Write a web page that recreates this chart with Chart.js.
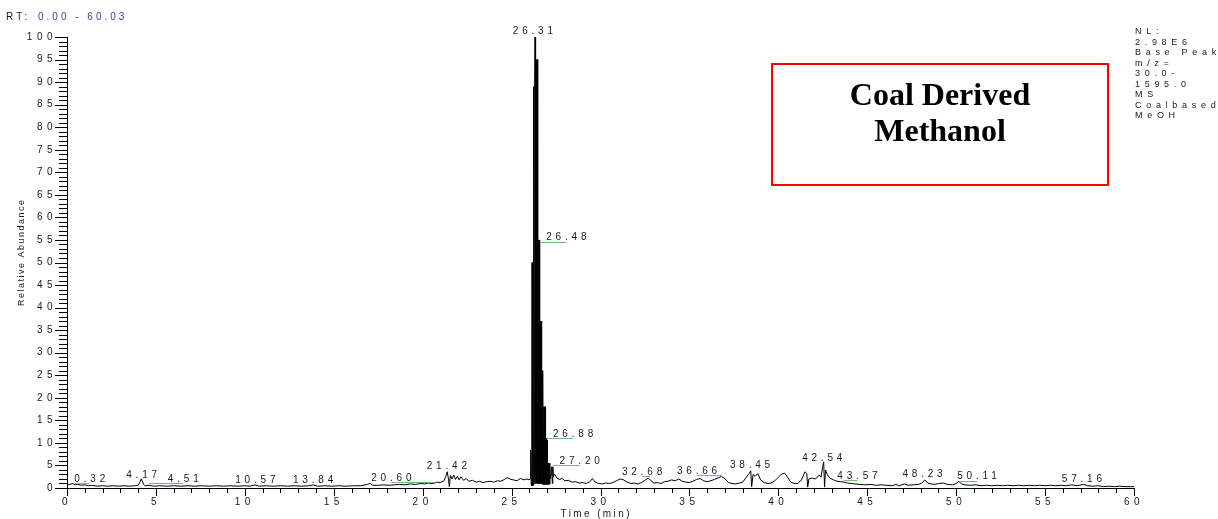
<!DOCTYPE html>
<html><head><meta charset="utf-8">
<script src="https://cdn.jsdelivr.net/npm/chart.js@4/dist/chart.umd.min.js"></script>
<style>html,body{margin:0;padding:0;background:#fff;overflow:hidden}#wrap{width:1218px;height:519px}</style>
</head><body><div id="wrap"><canvas id="c" width="1218" height="519"></canvas></div>
<script>
// ---- data (retention time in min, relative abundance %) ----
const rtBefore = [0.00,0.15,0.32,0.45,0.6,0.8,1.0,1.2,1.4,1.7,2.0,2.3,2.6,2.9,3.2,3.5,3.8,4.0,4.1,4.17,4.24,4.3,4.4,4.6,4.9,5.2,5.6,6.0,6.4,6.8,7.2,7.6,8.0,8.4,8.8,9.2,9.6,10.0,10.3,10.57,10.8,11.2,11.6,12.0,12.4,12.8,13.2,13.6,13.84,14.1,14.5,14.9,15.3,15.7,16.1,16.5,16.9,17.05,17.2,17.5,17.8,18.1,18.4,18.7,19.0,19.3,19.6,19.9,20.1,20.3,20.6,20.8,21.0,21.2,21.3,21.38,21.45,21.5,21.56,21.65,21.75,21.85,21.95,22.05,22.15,22.3,22.45,22.6,22.8,23.0,23.2,23.4,23.6,23.8,24.0,24.2,24.4,24.6,24.75,24.9,25.1,25.3,25.5,25.7,25.85];
const abBefore = [0.7,0.8,1.0,0.7,0.8,0.6,0.7,0.5,0.6,0.4,0.5,0.4,0.5,0.4,0.5,0.4,0.5,0.6,1.3,2.0,1.5,0.8,0.5,0.6,0.4,0.5,0.4,0.5,0.4,0.5,0.4,0.5,0.4,0.5,0.4,0.5,0.4,0.5,0.4,0.7,0.4,0.5,0.4,0.5,0.4,0.5,0.4,0.5,0.7,0.4,0.5,0.4,0.5,0.4,0.5,0.5,0.8,1.0,0.6,0.6,0.7,0.6,0.7,0.8,0.7,0.9,0.8,1.0,0.9,1.1,1.0,1.3,1.2,1.6,2.6,3.6,2.0,0.3,2.8,2.0,2.9,1.9,2.6,1.8,2.5,1.7,2.1,1.5,1.7,1.3,1.5,1.2,1.4,1.5,1.3,1.6,1.5,1.9,2.3,2.0,1.8,1.6,2.1,1.8,2.0];
const rtPeak = [25.98,26.04,26.07,26.10,26.13,26.15,26.17,26.19,26.21,26.22,26.24,26.26,26.28,26.30,26.32,26.33,26.35,26.37,26.38,26.40,26.42,26.44,26.46,26.48,26.50,26.52,26.54,26.56,26.58,26.60,26.62,26.64,26.66,26.68,26.70,26.72,26.74,26.76,26.78,26.80,26.82,26.84,26.86,26.88,26.90,26.92,26.94,26.96,26.98,27.00,27.02,27.05,27.08,27.11,27.14,27.16,27.19,27.22,27.26,27.29,27.32,27.35,27.40,27.45];
const abPeak = [1.8,2.0,8.4,0.8,0.5,50,0.5,50,0.6,89,0.8,89,1.0,89,100,1.0,100,95,1.2,95,1.0,95,1.0,55,1.0,55,1.0,55,1.0,37,1.0,37,1.0,37,1.0,26,0.8,26,0.8,18,0.8,18,0.8,18,0.8,11,0.8,11,0.8,10.6,0.8,5.5,0.8,5.5,0.8,5.0,2.0,3.0,4.7,1.0,4.7,2.5,3.0,2.9];
const rtAfter = [27.55,27.7,27.85,28.0,28.2,28.4,28.6,28.8,29.0,29.2,29.4,29.55,29.7,29.9,30.1,30.3,30.5,30.7,30.9,31.1,31.3,31.5,31.7,31.9,32.1,32.3,32.5,32.68,32.85,33.0,33.2,33.4,33.6,33.8,34.0,34.2,34.4,34.6,34.8,35.0,35.2,35.4,35.6,35.8,36.0,36.2,36.4,36.66,36.8,37.0,37.2,37.4,37.6,37.8,38.0,38.2,38.35,38.45,38.5,38.58,38.7,38.85,39.0,39.2,39.4,39.6,39.8,40.0,40.2,40.35,40.5,40.7,40.9,41.1,41.3,41.5,41.6,41.65,41.72,41.9,42.1,42.3,42.4,42.5,42.55,42.6,42.65,42.75,42.9,43.1,43.3,43.5,43.7,43.9,44.1,44.3,44.6,44.9,45.2,45.5,45.8,46.1,46.4,46.6,46.8,47.1,47.3,47.6,47.9,48.1,48.23,48.4,48.6,48.8,49.0,49.3,49.5,49.8,50.0,50.15,50.3,50.5,50.8,51.1,51.4,51.7,52.0,52.3,52.6,52.9,53.2,53.5,53.8,54.1,54.4,54.7,55.0,55.3,55.6,55.9,56.2,56.5,56.8,57.16,57.4,57.7,58.0,58.3,58.6,58.9,59.2,59.5,59.8,60.0];
const abAfter = [2.2,1.9,2.1,1.6,1.7,1.3,1.4,1.1,1.2,1.0,1.4,2.1,1.3,1.0,0.9,1.1,1.0,1.2,1.6,2.0,1.8,1.3,1.0,1.1,0.9,1.2,1.7,2.2,1.6,1.1,1.2,1.0,1.4,1.5,1.8,1.6,2.0,1.5,1.3,1.2,1.5,1.9,2.1,1.6,1.4,1.6,1.9,2.3,2.6,2.0,1.2,1.0,0.9,1.1,1.3,2.4,3.2,3.8,0.3,3.0,2.6,3.2,1.8,1.2,1.0,1.1,1.6,2.4,3.1,3.3,2.5,1.3,1.0,1.0,1.8,3.6,3.2,0.2,2.0,2.2,2.0,2.9,2.4,4.8,5.8,0.2,4.0,3.0,2.2,1.8,1.5,1.4,1.3,1.1,1.0,0.9,0.8,0.7,0.8,0.6,0.7,0.6,0.5,0.8,0.5,0.9,0.6,0.7,0.8,1.2,1.8,1.1,0.9,0.8,1.0,1.1,0.8,0.7,1.0,1.5,0.9,0.7,0.6,0.7,0.5,0.6,0.5,0.6,0.5,0.6,0.5,0.6,0.5,0.6,0.5,0.6,0.5,0.6,0.5,0.6,0.5,0.7,0.5,0.8,0.5,0.4,0.5,0.3,0.4,0.3,0.4,0.3,0.3,0.3];

// peak annotations: labelled RT, label centre (min), label level (%), green leader line
const peakRT        = [0.32,4.17,4.51,10.57,13.84,20.60,21.42,26.31,26.48,26.88,27.20,32.68,36.66,38.45,42.54,43.57,48.23,50.11,57.16];
const labelCenterRT = [1.28,4.20,6.54,10.59,13.84,18.24,21.36,26.20,28.08,28.46,28.83,32.34,35.43,38.41,42.47,44.45,48.11,51.17,57.07];
const labelLevel    = [1.15,1.95,1.00,0.93,0.93,1.22,3.95,100.3,54.65,11.13,4.99,2.60,2.84,4.26,5.72,1.82,2.26,1.66,1.06];
const hasLeader     = [true,false,true,false,false,true,false,false,true,true,true,true,true,false,false,true,false,true,false];

const xTickStep = 5, yTickStep = 5;
const infoLines = ['NL:','2.98E6','Base Peak','m/z=','30.0-','1595.0','MS','Coalbased','MeOH'];
const boxTitle = ['Coal Derived','Methanol'];

const points = [];
[[rtBefore,abBefore],[rtPeak,abPeak],[rtAfter,abAfter]].forEach(([t,a]) => t.forEach((v,i)=>points.push({x:v,y:a[i]})));

const FONT = '"Liberation Sans", Arial, sans-serif';
const TXT = '#1a1a1a';
const TICK_LS = 4.5;

const spacing = {
  id:'spacing',
  beforeLayout(c){ c.ctx.letterSpacing=TICK_LS+'px'; },
  beforeDraw(c){ c.ctx.letterSpacing=TICK_LS+'px'; }
};

function spacedText(ctx, txt, x, y, ls, align){
  ctx.letterSpacing = ls+'px';
  const w = ctx.measureText(txt).width - ls;
  let sx = x;
  if (align==='center') sx = x - w/2;
  else if (align==='right') sx = x - w;
  ctx.textAlign='left';
  ctx.fillText(txt, sx, y);
}

const extras = {
  id:'extras',
  afterDraw(c){
    const ctx=c.ctx, xs=c.scales.x, ys=c.scales.y, a=c.chartArea;
    ctx.save();
    ctx.strokeStyle='#000'; ctx.lineWidth=1;
    ctx.beginPath();
    for(let v=0; v<=100; v++){
      const y=Math.round(ys.getPixelForValue(v))+0.5;
      const len = v%5===0 ? 12 : 8;
      ctx.moveTo(a.left-len, y); ctx.lineTo(a.left, y);
    }
    for(let v=0; v<=60; v++){
      const x=Math.round(xs.getPixelForValue(v))+0.5;
      const len = v%5===0 ? 8 : 5;
      ctx.moveTo(x, a.bottom); ctx.lineTo(x, a.bottom+len);
    }
    ctx.stroke();

    // peak labels
    ctx.font='10px '+FONT; ctx.fillStyle=TXT; ctx.textBaseline='middle';
    peakRT.forEach((rt,i)=>{
      const cx=xs.getPixelForValue(labelCenterRT[i]);
      const ly=ys.getPixelForValue(labelLevel[i]);
      spacedText(ctx, rt.toFixed(2), cx, ly-4, 3.8, 'center');
      if(hasLeader[i]){
        const px=xs.getPixelForValue(rt)+2;
        const yy=Math.round(ly)+0.5;
        ctx.strokeStyle='#6cc06c'; ctx.beginPath();
        ctx.moveTo(Math.min(px,cx),yy); ctx.lineTo(Math.max(px,cx),yy); ctx.stroke();
      }
    });

    // RT range
    ctx.fillStyle=TXT;
    spacedText(ctx,'RT:',6,17,3.2,'left');
    ctx.fillStyle='#3b3bb0';
    spacedText(ctx,'0.00 - 60.03',38,17,3.0,'left');

    // info block
    ctx.fillStyle=TXT;
    ctx.font='9px '+FONT;
    infoLines.forEach((s,i)=>spacedText(ctx,s,1135,31.8+10.5*i,4.7,'left'));

    // axis titles
    ctx.font='10px '+FONT;
    spacedText(ctx,'Time (min)',595,514,2.4,'center');
    ctx.save();
    ctx.translate(22,253); ctx.rotate(-Math.PI/2);
    ctx.font='9px '+FONT;
    spacedText(ctx,'Relative Abundance',0,0,1.5,'center');
    ctx.restore();

    // red box
    ctx.letterSpacing='0px';
    ctx.strokeStyle='#ff0000'; ctx.lineWidth=2;
    ctx.strokeRect(772,64,336,121);
    ctx.fillStyle='#000'; ctx.font='bold 32px "Liberation Serif", "Times New Roman", serif';
    ctx.textAlign='center'; ctx.textBaseline='alphabetic';
    ctx.fillText(boxTitle[0],940,105);
    ctx.fillText(boxTitle[1],940,141);
    ctx.restore();
  }
};

new Chart(document.getElementById('c'),{
  type:'line',
  data:{datasets:[{data:points,borderColor:'#000',borderWidth:1,pointRadius:0,tension:0,fill:false}]},
  options:{
    responsive:false, animation:false, devicePixelRatio:1,
    parsing:false, normalized:true,
    layout:{padding:{left:12,right:84,top:37,bottom:0}},
    plugins:{legend:{display:false},tooltip:{enabled:false}},
    scales:{
      x:{type:'linear',min:0,max:60,
        grid:{display:false,drawTicks:false},
        border:{display:true,color:'#000',width:1},
        ticks:{stepSize:xTickStep,autoSkip:false,maxRotation:0,padding:8,color:TXT,font:{family:FONT,size:10}},
        afterFit(s){s.height=31;}
      },
      y:{type:'linear',min:0,max:100,
        grid:{display:false,drawTicks:false},
        border:{display:true,color:'#000',width:1},
        ticks:{stepSize:yTickStep,autoSkip:false,padding:10,color:TXT,font:{family:FONT,size:10}},
        afterFit(s){s.width=55;}
      }
    }
  },
  plugins:[spacing,extras]
});
</script></body></html>
